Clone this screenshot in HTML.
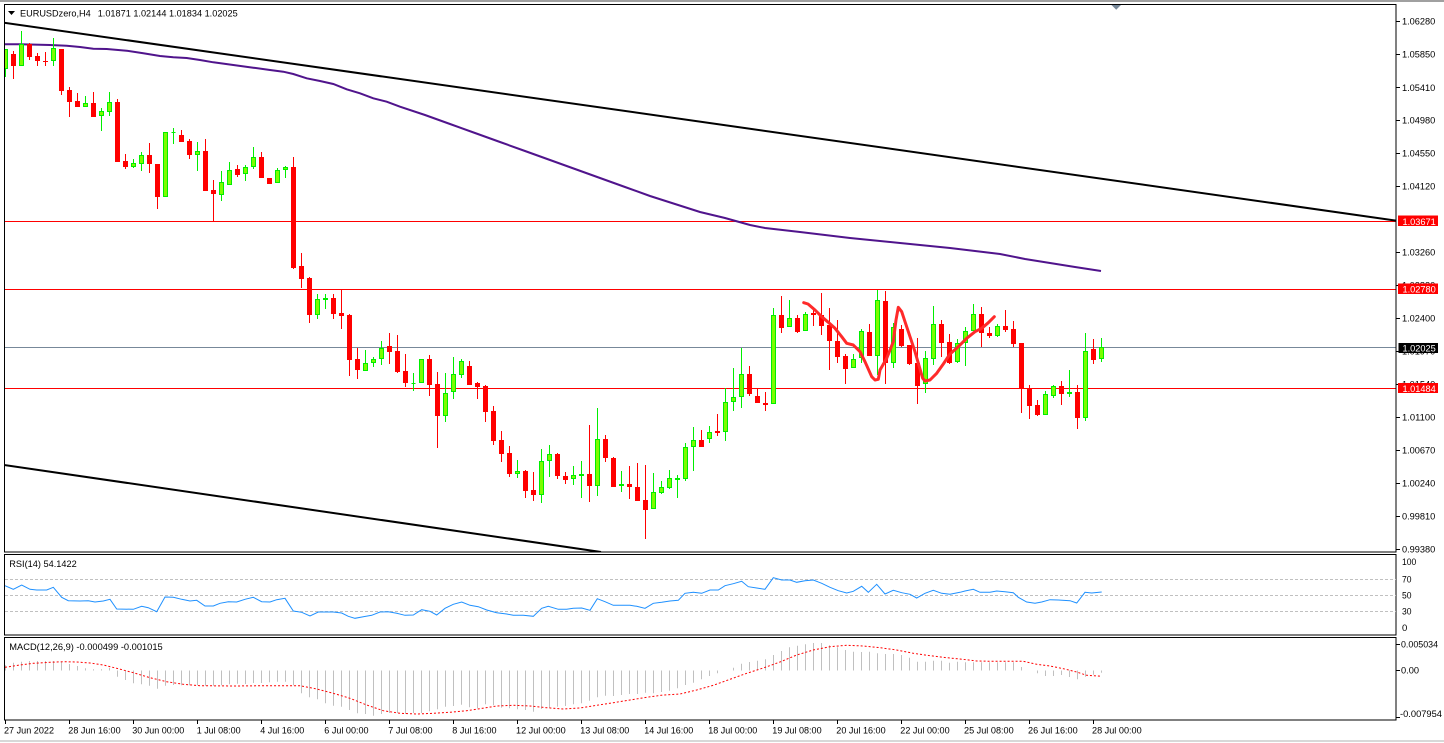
<!DOCTYPE html>
<html><head><meta charset="utf-8"><style>
html,body{margin:0;padding:0;background:#fff;}
svg{display:block;}
text{font-family:"Liberation Sans",sans-serif;font-size:9.5px;fill:#000;}
.w{fill:#fff;}
</style></head><body>
<svg width="1444" height="743" viewBox="0 0 1444 743" xmlns="http://www.w3.org/2000/svg">
<defs><clipPath id="cm"><rect x="5" y="5" width="1391" height="547"/></clipPath>
<clipPath id="cr"><rect x="5" y="555" width="1391" height="80"/></clipPath>
<clipPath id="cd"><rect x="5" y="638" width="1391" height="82"/></clipPath></defs>
<rect x="0" y="0" width="1444" height="743" fill="#fff"/>
<rect x="0" y="0" width="1444" height="2" fill="#a0a0a0"/>
<rect x="0" y="740" width="1444" height="2" fill="#d8d8d8"/>

<!-- main panel -->
<g clip-path="url(#cm)">
<!-- horizontal levels -->
<path d="M4 221.5H1396M4 289.5H1396M4 388.5H1396" stroke="#ff0000" stroke-width="1"/>
<path d="M4 347.5H1396" stroke="#778899" stroke-width="1"/>
<!-- trendlines -->
<path d="M4 22.7L1396 220.6" stroke="#000" stroke-width="2" fill="none"/>
<path d="M4 465L601 552" stroke="#000" stroke-width="2" fill="none"/>
<!-- MA -->
<polyline fill="none" stroke="#50148c" stroke-width="2" points="4,44.3 20,44.3 50,45 66.7,45.7 80,47 93.3,48.7 106.7,49 126.7,50.7 143.3,53.3 160,56 173.3,57.3 186.7,58 200,60 213.3,62.3 233.3,65 253.3,67.7 270,70 283.3,71.7 293.3,74 306.7,78.3 320,81 333.3,84 346.7,89.3 360,93.3 373.3,98.3 386.7,101.7 400,106.7 425,115 450,124 475,133 500,142 525,151 550,160 575,169 600,178 625,187 650,196 675,204 700,212 725,218 750,225 765,228 800,232 850,238 900,243 950,248 1000,254 1025,259 1050,263 1075,267 1101,271"/>
<!-- red wicks -->
<path stroke="#ff0000" stroke-width="1" fill="none" d="M13.5 51V79M29.5 43V60M37.5 53V66M45.5 52V66M61.5 49V95M69.5 87V117M77.5 93V107M93.5 92V117M117.5 99V162M125.5 154V169M149.5 143V173M157.5 164V209M181.5 130V142M189.5 139V159M205.5 139V191M213.5 180V222M237.5 165V177M261.5 152V178M269.5 178V184M293.5 157V269M301.5 253V288M309.5 277V323M333.5 294V319M341.5 289V329M349.5 314V376M357.5 348V379M389.5 333V364M397.5 335V373M405.5 354V387M429.5 355V396M437.5 372V448M469.5 361V385M477.5 382V399M485.5 385V422M493.5 406V445M501.5 431V462M509.5 446V477M525.5 470V498M533.5 472V501M557.5 453V479M565.5 472V484M589.5 425V502M605.5 435V462M613.5 457V487M629.5 466V499M637.5 463V501M645.5 465V539M701.5 430V447M717.5 414V436M749.5 366V396M757.5 389V403M765.5 392V411M781.5 296V333M797.5 315V333M813.5 307V326M821.5 293V335M829.5 308V370M837.5 320V363M845.5 354V384M869.5 324V356M885.5 291V384M901.5 325V347M909.5 345V365M917.5 338V404M941.5 320V357M949.5 334V364M981.5 307V347M989.5 327V338M1005.5 310V332M1013.5 321V347M1021.5 343V413M1029.5 385V419M1037.5 400V416M1061.5 381V405M1077.5 385V429M1093.5 339V364"/>
<!-- red bodies -->
<path fill="#ff0000" d="M11 54h5V66h-5zM27 44h5V57h-5zM35 56h5V61h-5zM43 61h5V62h-5zM59 49h5V91h-5zM67 90h5V102h-5zM75 101h5V107h-5zM91 103h5V117h-5zM115 102h5V162h-5zM123 161h5V167h-5zM147 155h5V164h-5zM155 164h5V197h-5zM179 135h5V142h-5zM187 141h5V155h-5zM203 151h5V191h-5zM211 190h5V194h-5zM235 169h5V175h-5zM259 157h5V178h-5zM267 178h5V184h-5zM291 167h5V268h-5zM299 266h5V279h-5zM307 278h5V315h-5zM331 298h5V314h-5zM339 313h5V316h-5zM347 315h5V360h-5zM355 359h5V370h-5zM387 346h5V352h-5zM395 351h5V372h-5zM403 371h5V383h-5zM427 359h5V385h-5zM435 384h5V416h-5zM467 366h5V385h-5zM475 383h5V387h-5zM483 386h5V412h-5zM491 411h5V441h-5zM499 440h5V454h-5zM507 453h5V474h-5zM523 471h5V491h-5zM531 490h5V495h-5zM555 454h5V476h-5zM563 476h5V480h-5zM587 474h5V486h-5zM603 439h5V458h-5zM611 458h5V487h-5zM627 484h5V487h-5zM635 487h5V501h-5zM643 500h5V510h-5zM699 440h5V447h-5zM715 431h5V433h-5zM747 374h5V394h-5zM755 396h5V403h-5zM763 403h5V405h-5zM779 315h5V328h-5zM795 318h5V332h-5zM811 313h5V315h-5zM819 315h5V326h-5zM827 325h5V341h-5zM835 341h5V357h-5zM843 356h5V369h-5zM867 332h5V356h-5zM883 301h5V363h-5zM899 329h5V346h-5zM907 345h5V364h-5zM915 363h5V386h-5zM939 324h5V343h-5zM947 342h5V363h-5zM979 314h5V333h-5zM987 333h5V336h-5zM1003 326h5V330h-5zM1011 329h5V344h-5zM1019 343h5V388h-5zM1027 388h5V406h-5zM1035 405h5V415h-5zM1059 386h5V394h-5zM1075 392h5V418h-5zM1091 349h5V360h-5z"/>
<!-- green wicks -->
<path stroke="#00ee00" stroke-width="1" fill="none" d="M5.5 49V77M21.5 31V66M53.5 38V66M85.5 96V107M101.5 108V131M109.5 92V116M133.5 159V168M141.5 152V171M165.5 132V197M173.5 128V144M197.5 142V171M221.5 171V201M229.5 162V185M245.5 165V181M253.5 147V169M277.5 168V183M285.5 166V178M317.5 294V319M325.5 294V309M365.5 350V371M373.5 357V367M381.5 341V365M413.5 373V391M421.5 359V383M445.5 373V422M453.5 357V399M461.5 359V378M517.5 460V478M541.5 449V503M549.5 445V477M573.5 466V485M581.5 461V498M597.5 408V496M621.5 471V492M653.5 473V509M661.5 481V494M669.5 470V489M677.5 475V498M685.5 443V481M693.5 427V471M709.5 426V443M725.5 388V441M733.5 368V411M741.5 348V408M773.5 308V404M789.5 300V327M805.5 312V331M853.5 354V368M861.5 329V363M877.5 290V375M893.5 323V368M925.5 351V393M933.5 306V365M957.5 339V363M965.5 327V366M973.5 304V331M997.5 324V337M1045.5 391V415M1053.5 385V398M1069.5 370V397M1085.5 333V421M1101.5 338V362"/>
<!-- green bodies -->
<path fill="#7cfc00" stroke="#00ee00" stroke-width="1" d="M3.5 49.5h4V68.5h-4zM19.5 44.5h4V65.5h-4zM51.5 48.5h4V60.5h-4zM83.5 103.5h4V106.5h-4zM99.5 111.5h4V115.5h-4zM107.5 102.5h4V111.5h-4zM131.5 163.5h4V166.5h-4zM139.5 155.5h4V163.5h-4zM163.5 132.5h4V196.5h-4zM171.5 132.5h4V132.5h-4zM195.5 151.5h4V154.5h-4zM219.5 182.5h4V194.5h-4zM227.5 170.5h4V184.5h-4zM243.5 167.5h4V173.5h-4zM251.5 157.5h4V166.5h-4zM275.5 170.5h4V182.5h-4zM283.5 167.5h4V169.5h-4zM315.5 299.5h4V314.5h-4zM323.5 298.5h4V299.5h-4zM363.5 363.5h4V370.5h-4zM371.5 359.5h4V362.5h-4zM379.5 348.5h4V358.5h-4zM411.5 383.5h4V383.5h-4zM419.5 359.5h4V382.5h-4zM443.5 393.5h4V415.5h-4zM451.5 374.5h4V391.5h-4zM459.5 361.5h4V374.5h-4zM515.5 471.5h4V473.5h-4zM539.5 461.5h4V494.5h-4zM547.5 454.5h4V460.5h-4zM571.5 475.5h4V478.5h-4zM579.5 474.5h4V475.5h-4zM595.5 439.5h4V485.5h-4zM619.5 484.5h4V485.5h-4zM651.5 492.5h4V508.5h-4zM659.5 487.5h4V492.5h-4zM667.5 478.5h4V487.5h-4zM675.5 478.5h4V479.5h-4zM683.5 447.5h4V478.5h-4zM691.5 440.5h4V446.5h-4zM707.5 432.5h4V438.5h-4zM723.5 402.5h4V431.5h-4zM731.5 397.5h4V401.5h-4zM739.5 374.5h4V396.5h-4zM771.5 315.5h4V403.5h-4zM787.5 318.5h4V326.5h-4zM803.5 314.5h4V330.5h-4zM851.5 359.5h4V367.5h-4zM859.5 331.5h4V357.5h-4zM875.5 300.5h4V355.5h-4zM891.5 327.5h4V362.5h-4zM923.5 358.5h4V383.5h-4zM931.5 324.5h4V358.5h-4zM955.5 343.5h4V361.5h-4zM963.5 331.5h4V342.5h-4zM971.5 314.5h4V330.5h-4zM995.5 326.5h4V335.5h-4zM1043.5 394.5h4V414.5h-4zM1051.5 386.5h4V395.5h-4zM1067.5 392.5h4V393.5h-4zM1083.5 351.5h4V417.5h-4zM1099.5 347.5h4V358.5h-4z"/>
<!-- freehand drawing -->
<polyline fill="none" stroke="#ff2a2a" stroke-width="3" stroke-linejoin="round" stroke-linecap="round" points="803.7,302.7 808,304 815,310 821.7,316.7 828.3,322.3 835,328.3 841.7,336.7 846.7,343.3 853.3,345 860,351.7 865,361.7 871.7,376.7 875,380 878.3,379.3 880,370 886.7,358.3 893.3,341.7 896,320 898.3,307.3 901.7,311.7 905,321.7 910,336.7 915,351.7 919.3,366.7 922.7,378.3 925,381 930,380 936.7,373.3 943.3,364 950,354 958.3,346.7 966.7,338.3 975,331.7 981.7,328.3 988.3,322.7 994.3,316.7"/>
</g>
<!-- shift marker -->
<polygon points="1111.5,5 1121,5 1116.2,9.8" fill="#778899"/>
<!-- title -->
<polygon points="8,11 15,11 11.5,15" fill="#000"/>
<text x="20" y="16.5" textLength="70.7" lengthAdjust="spacingAndGlyphs">EURUSDzero,H4</text>
<text x="97.7" y="16.5" textLength="140" lengthAdjust="spacingAndGlyphs">1.01871 1.02144 1.01834 1.02025</text>

<!-- panel borders -->
<rect x="4.5" y="4.5" width="1391.5" height="547.5" fill="none" stroke="#000" stroke-width="1"/>
<rect x="4.5" y="554.5" width="1391.5" height="80.5" fill="none" stroke="#000" stroke-width="1"/>
<rect x="4.5" y="637.5" width="1391.5" height="82.5" fill="none" stroke="#000" stroke-width="1"/>

<!-- price axis ticks & labels -->
<path stroke="#000" stroke-width="1" d="M1396 21.5h4M1396 54.5h4M1396 87.5h4M1396 120.5h4M1396 153.5h4M1396 186.5h4M1396 252.5h4M1396 285.5h4M1396 318.5h4M1396 351.5h4M1396 384.5h4M1396 417.5h4M1396 450.5h4M1396 483.5h4M1396 516.5h4M1396 549.5h4M1396 670.5h4M1396 644.5h4M1396 717.5h4"/>
<g>
<text x="1402" y="24.7" textLength="33.3" lengthAdjust="spacingAndGlyphs">1.06280</text>
<text x="1402" y="57.7" textLength="33.3" lengthAdjust="spacingAndGlyphs">1.05850</text>
<text x="1402" y="91" textLength="33.3" lengthAdjust="spacingAndGlyphs">1.05410</text>
<text x="1402" y="123.7" textLength="33.3" lengthAdjust="spacingAndGlyphs">1.04980</text>
<text x="1402" y="156.7" textLength="33.3" lengthAdjust="spacingAndGlyphs">1.04550</text>
<text x="1402" y="189.7" textLength="33.3" lengthAdjust="spacingAndGlyphs">1.04120</text>
<text x="1402" y="255.7" textLength="33.3" lengthAdjust="spacingAndGlyphs">1.03260</text>
<text x="1402" y="288.7" textLength="33.3" lengthAdjust="spacingAndGlyphs">1.02830</text>
<text x="1402" y="321.7" textLength="33.3" lengthAdjust="spacingAndGlyphs">1.02400</text>
<text x="1402" y="354.7" textLength="33.3" lengthAdjust="spacingAndGlyphs">1.01970</text>
<text x="1402" y="387.7" textLength="33.3" lengthAdjust="spacingAndGlyphs">1.01540</text>
<text x="1402" y="420.7" textLength="33.3" lengthAdjust="spacingAndGlyphs">1.01100</text>
<text x="1402" y="453.7" textLength="33.3" lengthAdjust="spacingAndGlyphs">1.00670</text>
<text x="1402" y="486.7" textLength="33.3" lengthAdjust="spacingAndGlyphs">1.00240</text>
<text x="1402" y="519.7" textLength="33.3" lengthAdjust="spacingAndGlyphs">0.99810</text>
<text x="1402" y="552.7" textLength="33.3" lengthAdjust="spacingAndGlyphs">0.99380</text>
</g>
<!-- level boxes -->
<rect x="1398" y="215.5" width="40" height="10.5" fill="#ff0000"/>
<text class="w" x="1402.5" y="224.8" textLength="33.3" lengthAdjust="spacingAndGlyphs">1.03671</text>
<rect x="1398" y="283.5" width="40" height="10.5" fill="#ff0000"/>
<text class="w" x="1402.5" y="292.6" textLength="33.3" lengthAdjust="spacingAndGlyphs">1.02780</text>
<rect x="1398.5" y="343" width="39.5" height="10" fill="#000"/>
<text class="w" x="1402.5" y="351.6" textLength="33.3" lengthAdjust="spacingAndGlyphs">1.02025</text>
<rect x="1398" y="383" width="40" height="10" fill="#ff0000"/>
<text class="w" x="1402.5" y="391.8" textLength="33.3" lengthAdjust="spacingAndGlyphs">1.01484</text>

<!-- RSI -->
<path d="M5 579.5H1396M5 595.5H1396M5 611.5H1396" stroke="#c0c0c0" stroke-width="1" stroke-dasharray="3,2"/>
<g clip-path="url(#cr)">
<polyline fill="none" stroke="#1e90ff" stroke-width="1" points="5,585.7 13.3,589.3 21.7,585 30,589.3 36.7,590 46.7,590 53.3,587.3 61.7,597.3 68.3,600.7 80,601 88.3,600.7 95,602 103.3,601 110,599.3 116.7,609 133.3,609.3 141.7,606.3 148.3,607.7 156.7,611.7 165,597 173.3,597.3 181.7,599.3 190,601 196.7,600.3 205,606 213.3,606 220,603.3 228.3,601.7 236.7,602 245,599.3 253.3,597.3 261.7,601.7 270,602 276.7,599.7 285,598.3 293.3,611 301.7,612.3 310,616 318.3,612 333.3,612 341.7,613 348.3,616.3 355,618.3 363.3,616.7 371.7,615.3 380,612 388.3,611.7 396.7,613.3 405,615.3 413.3,615 421.7,609.7 430,611.3 436.7,615 445,608.3 453.3,604.3 461.7,602 470,605.3 478.3,606.7 486.7,610 496.7,612.7 506.7,614 513.3,615.3 523.3,615.3 533.3,616.3 541.7,608.3 548.3,606.3 558.3,609.3 566.7,609.3 573.3,608.3 581.7,608 590,610.3 597.3,598.7 605,601.7 613.3,605.3 621.7,605.3 630,605.3 636.7,606.3 645,608.3 653.3,603.3 661.7,602.3 670,601 678.3,600.3 685,593.3 693.3,592.3 701.7,593.3 710,590 718.3,590 725,585.7 733.3,583.7 741.7,581.3 748.3,586.7 756.7,588 765,589.3 773.3,577.7 781.7,580 790,580 796.7,582.3 805,580.7 813.3,580 821.7,583.3 830,587.3 838.3,590.7 846.7,593 853.3,591.3 861.7,586.3 868.3,592.3 876.7,584.3 885,594 893.3,590.3 901.7,592.7 910,594.3 916.7,598 925,593.3 933.3,590.3 941.7,593.3 950,594.3 960,592.3 965,591 973.3,589.3 980,592.3 990,592.3 996.7,591 1005,591.7 1013.3,592.7 1018.3,597.3 1026.7,602 1035,603.3 1041.7,602 1050,599.7 1058.3,600 1070,600.7 1076.7,603 1085,592.3 1091.7,593 1101.7,592"/>
</g>
<text x="9.3" y="567" textLength="67.4" lengthAdjust="spacingAndGlyphs">RSI(14) 54.1422</text>
<text x="1402" y="565" textLength="14.3" lengthAdjust="spacingAndGlyphs">100</text>
<text x="1402" y="582.7" textLength="9.5" lengthAdjust="spacingAndGlyphs">70</text>
<text x="1402" y="598.7" textLength="9.5" lengthAdjust="spacingAndGlyphs">50</text>
<text x="1402" y="614.4" textLength="9.5" lengthAdjust="spacingAndGlyphs">30</text>
<text x="1402" y="631">0</text>

<!-- MACD -->
<g clip-path="url(#cd)">
<path stroke="#c0c0c0" stroke-width="1" fill="none" d="M5.5 670.5V665.3M13.5 670.5V662.7M21.5 670.5V661.7M29.5 670.5V661M37.5 670.5V661M45.5 670.5V661M53.5 670.5V661M61.5 670.5V662M69.5 670.5V664M77.5 670.5V666M85.5 670.5V668.3M93.5 670.5V669.3M101.5 670.5V669.3M109.5 670.5V668M117.5 670.5V676.7M125.5 670.5V680M133.5 670.5V683.3M141.5 670.5V684.3M149.5 670.5V685.7M157.5 670.5V688.7M165.5 670.5V685.7M173.5 670.5V685M181.5 670.5V685.3M189.5 670.5V685.3M197.5 670.5V685.3M205.5 670.5V685.7M213.5 670.5V685.7M221.5 670.5V685.3M229.5 670.5V684.3M237.5 670.5V683.7M245.5 670.5V684M253.5 670.5V683M261.5 670.5V683M269.5 670.5V682.3M277.5 670.5V681.7M285.5 670.5V681.7M293.5 670.5V685.3M301.5 670.5V693.3M309.5 670.5V697.3M317.5 670.5V699.3M325.5 670.5V703.3M333.5 670.5V705.7M341.5 670.5V706.7M349.5 670.5V710M357.5 670.5V713.3M365.5 670.5V714M373.5 670.5V715.7M381.5 670.5V714M389.5 670.5V713M397.5 670.5V713M405.5 670.5V714M413.5 670.5V713M421.5 670.5V713M429.5 670.5V711.3M437.5 670.5V709.3M445.5 670.5V706.7M453.5 670.5V706M461.5 670.5V704.7M469.5 670.5V707.3M477.5 670.5V708.3M485.5 670.5V704.3M493.5 670.5V705.3M501.5 670.5V707.7M509.5 670.5V708.3M517.5 670.5V709.3M525.5 670.5V710M533.5 670.5V711.7M541.5 670.5V709M549.5 670.5V707.7M557.5 670.5V706.7M565.5 670.5V706M573.5 670.5V704.3M581.5 670.5V703.3M589.5 670.5V700.7M597.5 670.5V697.3M605.5 670.5V695.7M613.5 670.5V696M621.5 670.5V695M629.5 670.5V694M637.5 670.5V694M645.5 670.5V692.7M653.5 670.5V693.3M661.5 670.5V692M669.5 670.5V690.7M677.5 670.5V688.3M685.5 670.5V685M693.5 670.5V682.7M701.5 670.5V679.3M709.5 670.5V676M717.5 670.5V673.3M733.5 670.5V667.7M741.5 670.5V663.7M749.5 670.5V662M757.5 670.5V660.7M765.5 670.5V659.3M773.5 670.5V655M781.5 670.5V651M789.5 670.5V647.3M797.5 670.5V645.7M805.5 670.5V644.3M813.5 670.5V643M821.5 670.5V643M829.5 670.5V645.3M837.5 670.5V647.3M845.5 670.5V650M853.5 670.5V651.7M861.5 670.5V652M869.5 670.5V651.7M877.5 670.5V653.3M885.5 670.5V654M893.5 670.5V654M901.5 670.5V655M909.5 670.5V657.7M917.5 670.5V661.7M925.5 670.5V661.7M933.5 670.5V660.7M941.5 670.5V660.7M949.5 670.5V662.7M957.5 670.5V661.7M965.5 670.5V662.3M973.5 670.5V662.3M981.5 670.5V662.3M989.5 670.5V662.3M997.5 670.5V662.3M1005.5 670.5V662.3M1013.5 670.5V662.3M1021.5 670.5V667M1037.5 670.5V673.3M1045.5 670.5V676M1053.5 670.5V676M1061.5 670.5V675M1069.5 670.5V677M1077.5 670.5V679.3M1085.5 670.5V676.7M1093.5 670.5V674.7M1101.5 670.5V672.7"/>
<polyline fill="none" stroke="#ff0000" stroke-width="1" stroke-dasharray="2,2" points="5,667.3 20,665 33.3,663.3 50,662.3 63.3,661.7 76.7,662 90,663 103.3,665 116.7,668.3 133.3,672.7 150,677.7 166.7,681.7 183.3,684.3 200,685.7 233.3,686 266.7,685.7 300,685.7 316.7,689 333.3,693.3 350,698.3 366.7,705 383.3,710.7 400,713.3 416.7,714 433.3,713.3 450,712.3 466.7,710.7 480,708.7 496.7,706 513.3,705.3 530,706 546.7,707.7 563.3,709 580,708 596.7,705.3 613.3,702.7 630,700 646.7,697.3 663.3,695 680,694 696.7,690 713.3,685.3 730,679.3 746.7,673.3 763.3,668 780,662 796.7,655 813.3,650 830,646.7 846.7,645.3 863.3,646 880,647.7 896.7,650 913.3,653.3 930,655.7 946.7,657.7 960,659 976.7,661 993.3,661.3 1010,661.3 1023.3,661.3 1036.7,664.3 1050,666 1063.3,668.7 1076.7,672 1086.7,675.3 1101.7,676.3"/>
</g>
<text x="9.3" y="650" textLength="153.4" lengthAdjust="spacingAndGlyphs">MACD(12,26,9) -0.000499 -0.001015</text>
<text x="1401" y="647.7" textLength="37" lengthAdjust="spacingAndGlyphs">0.005034</text>
<text x="1401" y="673.4" textLength="18" lengthAdjust="spacingAndGlyphs">0.00</text>
<text x="1400" y="717" textLength="42" lengthAdjust="spacingAndGlyphs">-0.007954</text>

<!-- time axis -->
<path stroke="#000" stroke-width="1" d="M5.5 720v4M69.5 720v4M133.5 720v4M197.5 720v4M261.5 720v4M325.5 720v4M389.5 720v4M453.5 720v4M517.5 720v4M581.5 720v4M645.5 720v4M709.5 720v4M773.5 720v4M837.5 720v4M901.5 720v4M965.5 720v4M1029.5 720v4M1093.5 720v4"/>
<text x="4" y="733.3" textLength="50" lengthAdjust="spacingAndGlyphs">27 Jun 2022</text>
<text x="68.3" y="733.3" textLength="52.3" lengthAdjust="spacingAndGlyphs">28 Jun 16:00</text>
<text x="132.3" y="733.3" textLength="52" lengthAdjust="spacingAndGlyphs">30 Jun 00:00</text>
<text x="196.7" y="733.3" textLength="44" lengthAdjust="spacingAndGlyphs">1 Jul 08:00</text>
<text x="260.3" y="733.3" textLength="44" lengthAdjust="spacingAndGlyphs">4 Jul 16:00</text>
<text x="324.3" y="733.3" textLength="44.3" lengthAdjust="spacingAndGlyphs">6 Jul 00:00</text>
<text x="388.3" y="733.3" textLength="44.3" lengthAdjust="spacingAndGlyphs">7 Jul 08:00</text>
<text x="452.3" y="733.3" textLength="44.3" lengthAdjust="spacingAndGlyphs">8 Jul 16:00</text>
<text x="516" y="733.3" textLength="49.7" lengthAdjust="spacingAndGlyphs">12 Jul 00:00</text>
<text x="580.3" y="733.3" textLength="49" lengthAdjust="spacingAndGlyphs">13 Jul 08:00</text>
<text x="644.3" y="733.3" textLength="49" lengthAdjust="spacingAndGlyphs">14 Jul 16:00</text>
<text x="708.3" y="733.3" textLength="49" lengthAdjust="spacingAndGlyphs">18 Jul 00:00</text>
<text x="772.3" y="733.3" textLength="49.3" lengthAdjust="spacingAndGlyphs">19 Jul 08:00</text>
<text x="836.3" y="733.3" textLength="49.3" lengthAdjust="spacingAndGlyphs">20 Jul 16:00</text>
<text x="900.3" y="733.3" textLength="49.3" lengthAdjust="spacingAndGlyphs">22 Jul 00:00</text>
<text x="964" y="733.3" textLength="49.7" lengthAdjust="spacingAndGlyphs">25 Jul 08:00</text>
<text x="1028" y="733.3" textLength="49.7" lengthAdjust="spacingAndGlyphs">26 Jul 16:00</text>
<text x="1092" y="733.3" textLength="49.7" lengthAdjust="spacingAndGlyphs">28 Jul 00:00</text>
</svg>
</body></html>
